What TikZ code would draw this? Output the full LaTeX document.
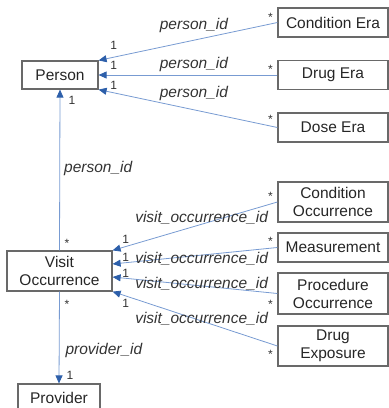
\documentclass[tikz,border=0pt]{standalone}
\usepackage{fontspec}
\setmainfont{Liberation Sans}
\usepackage{tikz}
\usetikzlibrary{
  arrows.meta,
  positioning
}
\definecolor{relblue}{RGB}{120,155,210}
\definecolor{tipblue}{RGB}{45,95,170}
\definecolor{boxgray}{RGB}{105,105,105}
\tikzset{
  entbox/.style={draw=boxgray, line width=1.2pt, text=black!85,
    minimum width=110pt, minimum height=29pt, inner sep=1pt,
    align=center, font=\fontsize{15.5}{18}\selectfont},
  rel/.style={draw=relblue, line width=0.8pt,
    -{Triangle[length=8pt, width=7pt, color=tipblue]}},
  lbl/.style={font=\fontsize{15.5}{18}\selectfont\itshape,
    inner sep=1pt, text=black!80},
  mult/.style={font=\fontsize{12}{13}\selectfont,
    inner sep=0pt, text=black!80},
}

\begin{document}
\begin{tikzpicture}[x=1pt, y=-1pt]
  \useasboundingbox (0,0) rectangle (389,408);

  % Core tables (left)
  \node[entbox, minimum width=76pt, minimum height=28pt] (person) at (60,75) {Person};
  \node[entbox, minimum width=105pt, minimum height=40pt] (visit) at (59.5,271)
    {Visit\\Occurrence};
  \node[entbox, minimum width=82pt, minimum height=28pt] (provider) at (59,398)
    {Provider};

  % Era tables (right, top)
  \node[entbox] (condera) at (333,22.5) {Condition Era};
  \node[entbox] (drugera) at (333,75) {Drug Era};
  \node[entbox] (doseera) at (333,127.5) {Dose Era};

  % Event tables (right, bottom)
  \node[entbox, minimum height=40pt] (condocc) at (333,202) {Condition\\Occurrence};
  \node[entbox] (meas) at (333,247.5) {Measurement};
  \node[entbox, minimum height=41pt] (prococc) at (333,293.5) {Procedure\\Occurrence};
  \node[entbox, minimum height=40pt] (drugexp) at (333,346) {Drug\\Exposure};

  % person_id links
  \draw[rel] (condera.west) -- (person.north east)
    node[lbl, pos=.467, above=6pt] {person\_id}
    node[mult, at start, xshift=-7pt, yshift=5.5pt] {*}
    node[mult, at end, xshift=15pt, yshift=15pt] {1};
  \draw[rel] (drugera.west) -- (person.east)
    node[lbl, pos=.467, above=2pt] {person\_id}
    node[mult, at start, xshift=-7pt, yshift=6pt] {*}
    node[mult, at end, xshift=15pt, yshift=10pt] {1};
  \draw[rel] (doseera.west) -- (person.south east)
    node[lbl, pos=.467, above=8pt] {person\_id}
    node[mult, at start, xshift=-7pt, yshift=8pt] {*}
    node[mult, at end, xshift=15pt, yshift=4pt] {1};
  \draw[rel] (visit.north) -- (person.south)
    node[lbl, pos=.51, right=3pt] {person\_id}
    node[mult, at start, xshift=7.5pt, yshift=7pt] {*}
    node[mult, at end, xshift=12pt, yshift=-11pt] {1};

  % visit_occurrence_id links
  \draw[rel] (condocc.west) -- (visit.north east)
    node[lbl, pos=.46, yshift=6pt] {visit\_occurrence\_id}
    node[mult, at start, xshift=-7pt, yshift=6pt] {*}
    node[mult, at end, xshift=13pt, yshift=11pt] {1};
  \draw[rel] (meas.west) -- ([yshift=7pt]visit.east)
    node[lbl, pos=.46, yshift=-4pt] {visit\_occurrence\_id}
    node[mult, at start, xshift=-7pt, yshift=6.5pt] {*}
    node[mult, at end, xshift=13pt, yshift=7pt] {1};
  \draw[rel] (prococc.west) -- ([yshift=-6pt]visit.east)
    node[lbl, pos=.46, yshift=2pt] {visit\_occurrence\_id}
    node[mult, at start, xshift=-7pt, yshift=-10.5pt] {*}
    node[mult, at end, xshift=13pt, yshift=4pt] {1};
  \draw[rel] (drugexp.west) -- (visit.south east)
    node[lbl, pos=.46, yshift=2pt] {visit\_occurrence\_id}
    node[mult, at start, xshift=-7pt, yshift=-8pt] {*}
    node[mult, at end, xshift=13pt, yshift=-12pt] {1};

  % provider_id link
  \draw[rel] (visit.south) -- (provider.north)
    node[lbl, pos=.645, right=5pt] {provider\_id}
    node[mult, at start, xshift=7.5pt, yshift=-13pt] {*}
    node[mult, at end, xshift=11pt, yshift=8pt] {1};
\end{tikzpicture}
\end{document}
